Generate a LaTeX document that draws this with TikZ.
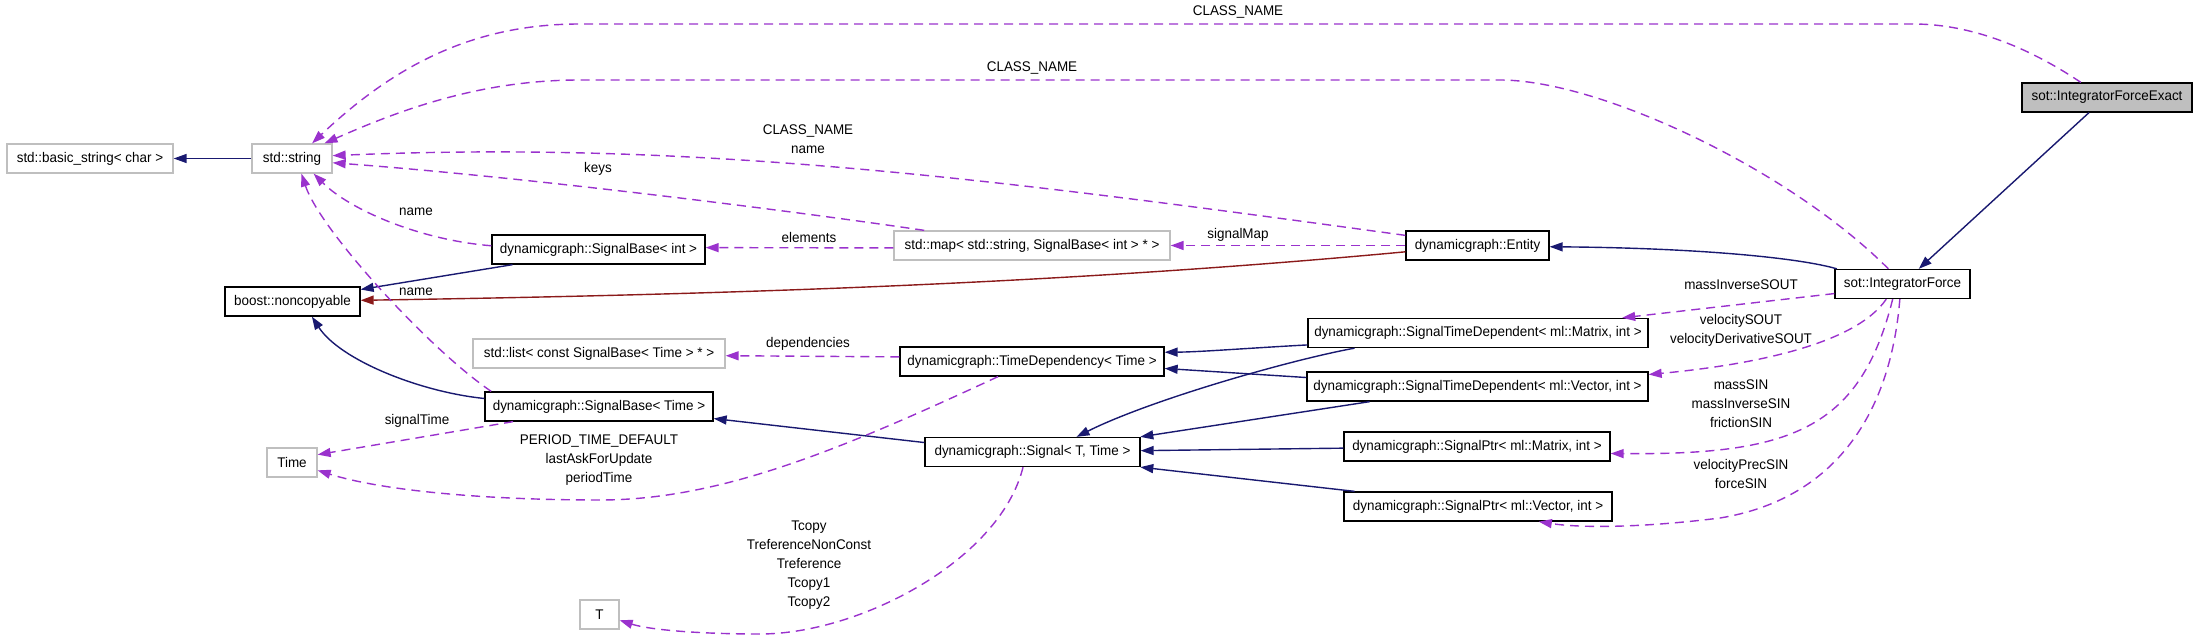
\documentclass[tikz,border=0pt]{standalone}
\usepackage{fontspec}
\setmainfont{Liberation Sans}[FakeStretch=0.96]
\usetikzlibrary{arrows.meta}
\definecolor{inhblue}{RGB}{25,25,112}
\definecolor{privred}{RGB}{139,26,26}
\definecolor{usepurple}{RGB}{154,50,205}
\definecolor{extgray}{RGB}{191,191,191}
\tikzset{%
	cls/.style  = {draw=black, line width=1.3pt, rectangle, minimum height=29pt, inner sep=0pt, font=\fontsize{14}{17}\selectfont}, % Class
	ext/.style  = {cls, draw=extgray}, % External class
	cur/.style  = {cls, fill=extgray}, % Documented class
	lbl/.style  = {inner sep=0pt, align=center, font=\fontsize{14}{19}\selectfont}, % Member label
	inh/.style  = {draw=inhblue, line width=1.4pt, -{Triangle[length=13pt,width=9pt]}}, % Public base
	priv/.style = {inh, draw=privred}, % Private base
	use/.style  = {draw=usepurple, line width=1.4pt, dash pattern=on 9pt off 6pt, -{Triangle[length=13pt,width=9pt]}} % Usage
}

\begin{document}
\begin{tikzpicture}[x=1pt, y=-1pt]
	\useasboundingbox (0,0) rectangle (2197,644);
	\draw % Drawing the classes
	node at (90,158.5) [ext, minimum width=166pt] (basestr) {std::basic\_string< char >}
	node at (292,158.5) [ext, minimum width=80pt] (str) {std::string}
	node at (598.5,249.5) [cls, minimum width=213pt] (sbint) {dynamicgraph::SignalBase< int >}
	node at (292.5,301.5) [cls, minimum width=135pt] (noncopy) {boost::noncopyable}
	node at (599,353.5) [ext, minimum width=252pt] (list) {std::list< const SignalBase< Time > * >}
	node at (599,406.5) [cls, minimum width=228pt] (sbtime) {dynamicgraph::SignalBase< Time >}
	node at (292,462.5) [ext, minimum width=50pt] (time) {Time}
	node at (599.5,614.5) [ext, minimum width=39pt] (T) {T}
	node at (1032,245.5) [ext, minimum width=276pt] (map) {std::map< std::string, SignalBase< int > * >}
	node at (1032,361.5) [cls, minimum width=264pt] (timedep) {dynamicgraph::TimeDependency< Time >}
	node at (1032.5,452) [cls, minimum width=215pt] (signal) {dynamicgraph::Signal< T, Time >}
	node at (1477.5,245.5) [cls, minimum width=143pt] (entity) {dynamicgraph::Entity}
	node at (1478,333) [cls, minimum width=340pt] (stdmat) {dynamicgraph::SignalTimeDependent< ml::Matrix, int >}
	node at (1477.5,386.5) [cls, minimum width=341pt] (stdvec) {dynamicgraph::SignalTimeDependent< ml::Vector, int >}
	node at (1477,446.5) [cls, minimum width=266pt] (ptrmat) {dynamicgraph::SignalPtr< ml::Matrix, int >}
	node at (1478,506.5) [cls, minimum width=268pt] (ptrvec) {dynamicgraph::SignalPtr< ml::Vector, int >}
	node at (1902.5,284) [cls, minimum width=135pt] (intf) {sot::IntegratorForce}
	node at (2107,97.5) [cur, minimum width=170pt] (exact) {sot::IntegratorForceExact}
	;

	% Member labels
	\node at (1238,12) [lbl] (lclsexact) {CLASS\_NAME};
	\node at (1032,68) [lbl] (lclsintf) {CLASS\_NAME};
	\node at (808,139.5) [lbl] (lclsentity) {CLASS\_NAME\\name};
	\node at (598,169) [lbl] (lkeys) {keys};
	\node at (416,212) [lbl] (lnameint) {name};
	\node at (416,292) [lbl] (lnametime) {name};
	\node at (809,237) [lbl] (lelements) {elements};
	\node at (1238,235) [lbl] (lsignalmap) {signalMap};
	\node at (808,344) [lbl] (ldeps) {dependencies};
	\node at (417,421) [lbl] (lsigtime) {signalTime};
	\node at (599,460) [lbl] (lperiod) {PERIOD\_TIME\_DEFAULT\\lastAskForUpdate\\periodTime};
	\node at (809,565) [lbl] (ltcopy) {Tcopy\\TreferenceNonConst\\Treference\\Tcopy1\\Tcopy2};
	\node at (1741,285) [lbl] (lmassout) {massInverseSOUT};
	\node at (1741,330.5) [lbl] (lvelout) {velocitySOUT\\velocityDerivativeSOUT};
	\node at (1741,404) [lbl] (lmassin) {massSIN\\massInverseSIN\\frictionSIN};
	\node at (1741,474) [lbl] (lvelin) {velocityPrecSIN\\forceSIN};

	% Drawing the arrows
	\draw[inh] (str) -- (basestr);
	\draw[inh] (sbint.-170.5) -- (noncopy.10);
	\draw[priv] (entity.185) .. controls (1050,285) and (700,295) .. (noncopy.1);
	\draw[inh] (sbtime.176) .. controls (420,392) and (340,360) .. (noncopy.-38);
	\draw[inh] (signal.175) -- (sbtime.-6.5);
	\draw[inh] (stdmat.184) .. controls (1250,348) and (1200,352) .. (timedep.4);
	\draw[inh] (stdvec.177) -- (timedep.-3);
	\draw[inh] (stdmat.-173) .. controls (1290,360) and (1150,400) .. (signal.19);
	\draw[inh] (stdvec.-172) -- (signal.8);
	\draw[inh] (ptrmat) -- (signal);
	\draw[inh] (ptrvec.173) -- (signal.-8);
	\draw[inh] (intf.167) .. controls (1800,258) and (1700,248) .. (entity.-1);
	\draw[inh] (exact.-140) -- (intf.43);

	\draw[use] (exact.150) .. controls (2040,55) and (1980,24) .. (1913,24) -- (580,24) .. controls (480,24) and (400,60) .. (str.37);
	\draw[use] (intf.133) .. controls (1790,170) and (1600,80) .. (1500,80) -- (580,80) .. controls (480,80) and (400,110) .. (str.25);
	\draw[use] (entity.172) .. controls (1000,180) and (700,140) .. (str.4);
	\draw[use] (map.172.5) .. controls (750,205) and (500,175) .. (str.-6.4);
	\draw[use] (sbint.178) .. controls (420,240) and (350,210) .. (str.-35);
	\draw[use] (sbtime.172) .. controls (430,350) and (320,230) .. (str.-58);
	\draw[use] (map.181) -- (sbint.1);
	\draw[use] (entity) -- (map);
	\draw[use] (timedep.178) -- (list.-1);
	\draw[use] (timedep.-156) .. controls (840,450) and (720,500) .. (600,500) .. controls (480,500) and (380,490) .. (time.-17);
	\draw[use] (sbtime.-170) -- (time.17);
	\draw[use] (signal.-122) .. controls (1000,560) and (860,634) .. (760,634) .. controls (700,634) and (650,630) .. (T.-16);
	\draw[use] (intf.188) -- (stdmat.6.4);
	\draw[use] (intf.-137) .. controls (1855,345) and (1750,365) .. (stdvec.4);
	\draw[use] (intf.-123) .. controls (1860,430) and (1790,455) .. (ptrmat.-3);
	\draw[use] (intf.-100) .. controls (1890,420) and (1830,500) .. (1720,518) .. controls (1640,528) and (1580,528) .. (ptrvec.-14);
\end{tikzpicture}
\end{document}
